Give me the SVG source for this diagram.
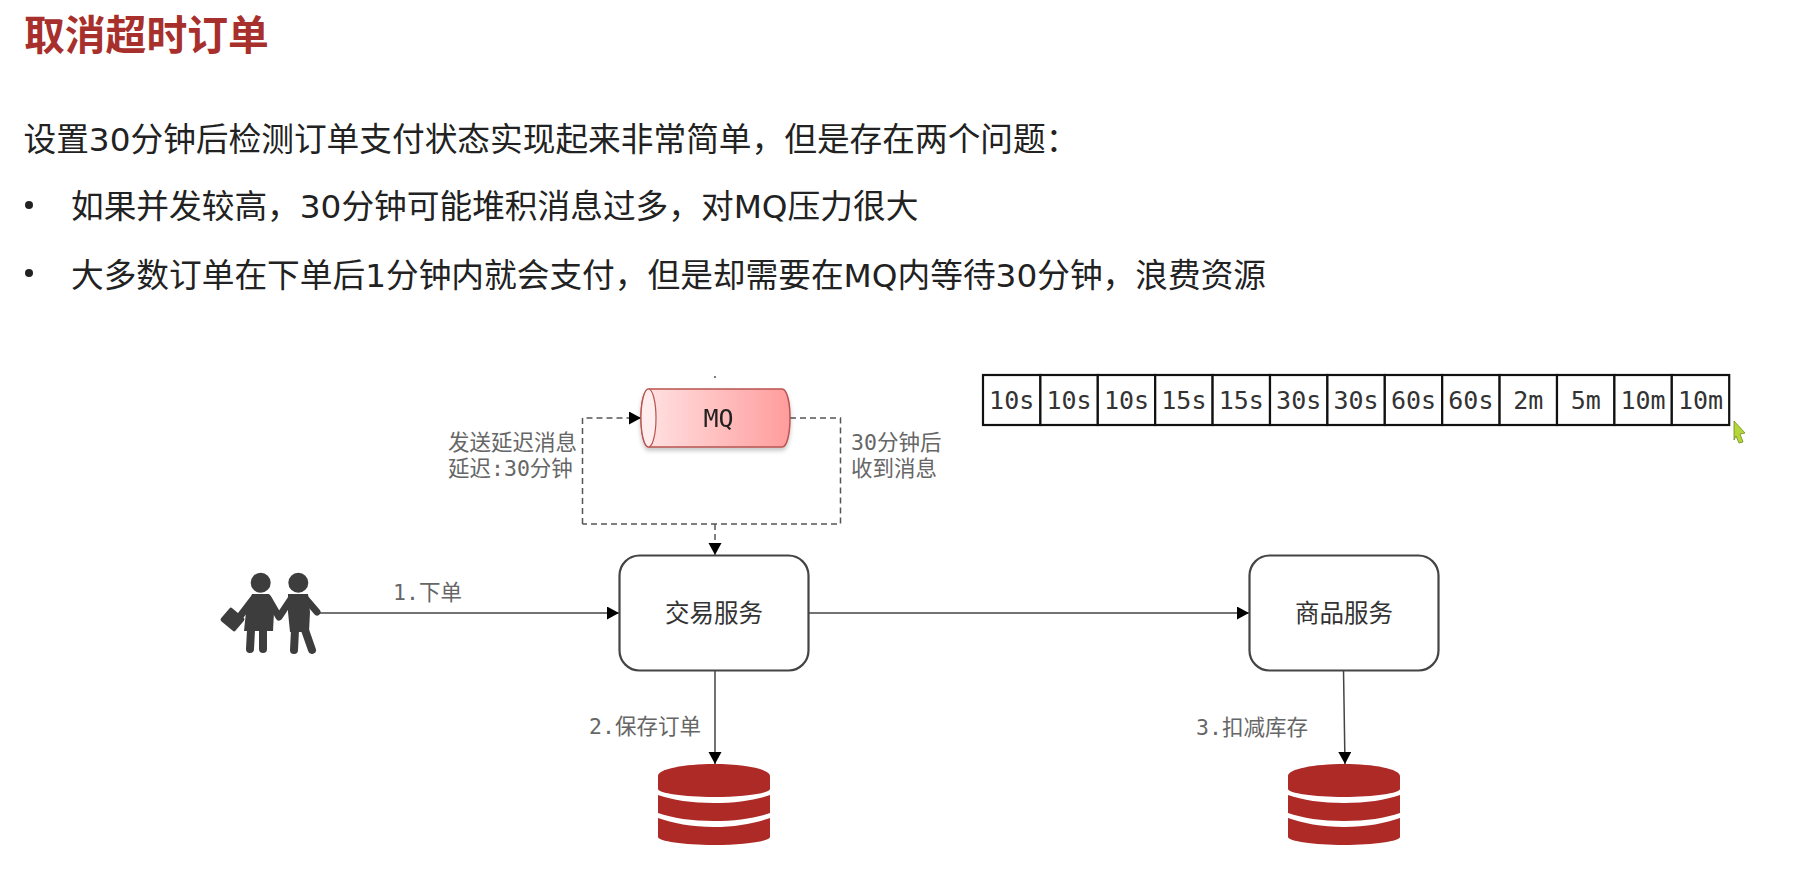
<svg xmlns="http://www.w3.org/2000/svg" width="1798" height="888" viewBox="0 0 1798 888">
<style>
.cjk{font-family:"DejaVu Sans","Noto Sans CJK SC",sans-serif}
.mono{font-family:"DejaVu Sans Mono","Noto Sans CJK SC",monospace}
.body{font-size:32.7px;fill:#222}
.lbl{font-size:21.5px;fill:#666}
.nodeText{font-size:24.500px;fill:#333;text-anchor:middle;dominant-baseline:central}
.box{fill:#fff;stroke:#444;stroke-width:2.2}
.cell{fill:#fff;stroke:#111;stroke-width:2.2}
.cellText{font-size:25px;fill:#333;text-anchor:middle}
.ln{fill:none;stroke:#444;stroke-width:1.5}
.dash{fill:none;stroke:#555;stroke-width:1.5;stroke-dasharray:6 4}
.db{fill:#ad2a26}
.ppl{fill:#3d3d3d}
.limb{fill:none;stroke:#3d3d3d;stroke-linecap:round;stroke-linejoin:round}
</style>
<defs>
<marker id="arr" markerUnits="userSpaceOnUse" markerWidth="14" markerHeight="14" refX="12" refY="6.5" orient="auto"><path d="M0 0L12 6.5L0 13Z" fill="#000"/></marker>
<linearGradient id="mqg" x1="0" y1="0" x2="1" y2="0"><stop offset="0" stop-color="#ffe4e4"/><stop offset="1" stop-color="#ff9c9c"/></linearGradient>
<filter id="sh" x="-10%" y="-20%" width="120%" height="150%"><feDropShadow dx="0" dy="3" stdDeviation="2" flood-color="#000" flood-opacity="0.22"/></filter>
<path id="cyl" d="M-56 12C-56 5-30 0 0 0S56 5 56 12V25C56 29 30 33 0 33S-56 29-56 25ZM-56 31C-42 36-22 39 0 39S42 36 56 31V49C42 54 22 57 0 57S-42 54-56 49ZM-56 54C-42 59-22 63 0 63S42 59 56 54V73C56 77 30 81 0 81S-56 77-56 73Z"/>
</defs>
<rect width="1798" height="888" fill="#fff"/>
<g id="heading">
<text class="cjk" x="24" y="50" font-size="40.800" font-weight="700" fill="#a8302c">取消超时订单</text>
<text class="cjk body" x="23.500" y="150.500">设置30分钟后检测订单支付状态实现起来非常简单，但是存在两个问题：</text>
<circle cx="29" cy="205" r="4" fill="#222"/>
<text class="cjk body" x="71" y="218">如果并发较高，30分钟可能堆积消息过多，对MQ压力很大</text>
<circle cx="29" cy="273" r="4" fill="#222"/>
<text class="cjk body" x="71" y="287">大多数订单在下单后1分钟内就会支付，但是却需要在MQ内等待30分钟，浪费资源</text>
</g>
<g id="connectors">
<path class="dash" d="M715 524V555" marker-end="url(#arr)"/>
<path class="dash" d="M582.500 524V418H641" marker-end="url(#arr)"/>
<path class="dash" d="M790 418H840.500V524H582.500"/>
<path class="dash" d="M715 376V378"/>
<path class="ln" d="M320 613H619" marker-end="url(#arr)"/>
<path class="ln" d="M808 613H1249" marker-end="url(#arr)"/>
<path class="ln" d="M715 670V764" marker-end="url(#arr)"/>
<path class="ln" d="M1343.500 670L1345 764" marker-end="url(#arr)"/>
<text class="mono lbl" x="393" y="600">1.下单</text>
<text class="mono lbl" x="589" y="734">2.保存订单</text>
<text class="mono lbl" x="1196" y="735">3.扣减库存</text>
<text class="mono lbl" x="448" y="450">发送延迟消息</text>
<text class="mono lbl" x="448" y="476">延迟:30分钟</text>
<text class="mono lbl" x="851" y="450">30分钟后</text>
<text class="mono lbl" x="851" y="476">收到消息</text>
</g>
<g id="mq" filter="url(#sh)">
<path d="M649 389H782C787 389 790 402 790 418S787 447 782 447H649C644 447 641 434 641 418S644 389 649 389Z" fill="url(#mqg)" stroke="#b85450" stroke-width="1.5"/>
<ellipse cx="648.500" cy="418" rx="7.500" ry="29" fill="#ffecec" stroke="#b85450" stroke-width="1.2"/>
<text class="mono nodeText" x="718.500" y="418" style="fill:#222;font-size:25px">MQ</text>
</g>
<g id="delay-table">
<rect class="cell" x="983" y="375" width="57.400" height="50"/><text class="mono cellText" x="1011.700" y="409">10s</text>
<rect class="cell" x="1040.400" y="375" width="57.400" height="50"/><text class="mono cellText" x="1069.100" y="409">10s</text>
<rect class="cell" x="1097.800" y="375" width="57.400" height="50"/><text class="mono cellText" x="1126.500" y="409">10s</text>
<rect class="cell" x="1155.200" y="375" width="57.400" height="50"/><text class="mono cellText" x="1183.900" y="409">15s</text>
<rect class="cell" x="1212.600" y="375" width="57.400" height="50"/><text class="mono cellText" x="1241.300" y="409">15s</text>
<rect class="cell" x="1270" y="375" width="57.400" height="50"/><text class="mono cellText" x="1298.700" y="409">30s</text>
<rect class="cell" x="1327.400" y="375" width="57.400" height="50"/><text class="mono cellText" x="1356.100" y="409">30s</text>
<rect class="cell" x="1384.800" y="375" width="57.400" height="50"/><text class="mono cellText" x="1413.500" y="409">60s</text>
<rect class="cell" x="1442.200" y="375" width="57.400" height="50"/><text class="mono cellText" x="1470.900" y="409">60s</text>
<rect class="cell" x="1499.600" y="375" width="57.400" height="50"/><text class="mono cellText" x="1528.300" y="409">2m</text>
<rect class="cell" x="1557" y="375" width="57.400" height="50"/><text class="mono cellText" x="1585.700" y="409">5m</text>
<rect class="cell" x="1614.400" y="375" width="57.400" height="50"/><text class="mono cellText" x="1643.100" y="409">10m</text>
<rect class="cell" x="1671.800" y="375" width="57.400" height="50"/><text class="mono cellText" x="1700.500" y="409">10m</text>
</g>
<g id="users">
<circle class="ppl" cx="260.700" cy="582.700" r="10"/>
<circle class="ppl" cx="298.300" cy="582.700" r="10"/>
<path class="ppl" d="M252 594H269L274 612L273 631H244L246 612Z"/>
<path class="limb" stroke-width="7" d="M254 598L241 615M268 598L279 617L291 599M305 598L317 612"/>
<path class="ppl" d="M288 594H308L310 612L309 632H290L288 612Z"/>
<path class="limb" stroke-width="8" d="M251 630L250 649M263 630L263 649M295 630L294 650M305 630L312 650"/>
<rect class="ppl" x="223" y="611" width="19" height="17" rx="2" transform="rotate(40 232.500 619.500)"/>
</g>
<g id="trade-service">
<rect class="box" x="619.500" y="555.500" width="189" height="115" rx="20"/>
<text class="cjk nodeText" x="714" y="613.500">交易服务</text>
</g>
<g id="goods-service">
<rect class="box" x="1249.500" y="555.500" width="189" height="115" rx="20"/>
<text class="cjk nodeText" x="1344" y="613.500">商品服务</text>
</g>
<g id="order-db"><use href="#cyl" class="db" x="714" y="764"/></g>
<g id="stock-db"><use href="#cyl" class="db" x="1344" y="764"/></g>
<g id="cursor"><path d="M1734 421L1745 433L1740 434L1743 442L1739 443L1736 436L1734 440Z" fill="#b5d63a" stroke="#6e8a1c" stroke-width="0.8"/></g>
</svg>
